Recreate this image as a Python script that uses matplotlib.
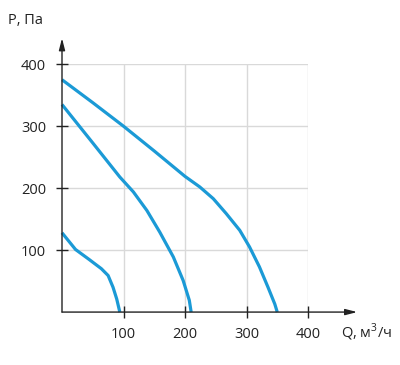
import matplotlib
matplotlib.use('Agg')
import matplotlib.pyplot as plt

plt.rcParams['font.family'] = ['Open Sans', 'DejaVu Sans']
plt.rcParams['mathtext.fontset'] = 'custom'
plt.rcParams['mathtext.rm'] = 'Open Sans'

# curves (Q, P)
q_big = [0, 50, 100, 150, 200, 224, 246, 267, 289, 305, 321, 335, 346, 350]
p_big = [375, 338, 300, 260, 219, 202, 183, 159, 132, 105, 73, 40, 13, 0]

q_mid = [0, 50, 94, 116, 138, 159, 181, 197, 207, 210]
p_mid = [335, 273, 218, 194, 164, 129, 89, 51, 19, 0]

q_small = [0, 22, 44, 64, 75, 83, 89, 94]
p_small = [128, 101, 85, 70, 59, 40, 21, 0]

ticks = [100, 200, 300, 400]
blue = '#1b9ad6'

fig = plt.figure(figsize=(4, 3.65), dpi=100)
ax = fig.add_axes([0.155, 0.145, 0.615, 0.679])
ax.set_xlim(0, 400)
ax.set_ylim(0, 400)

for s in ax.spines.values():
    s.set_visible(False)

ax.set_xticks(ticks)
ax.set_yticks(ticks)
ax.grid(True, color='#d9d9d9', linewidth=1.0)
ax.tick_params(direction='inout', length=9, width=1.0, color='#222222',
               labelsize=10.5, labelcolor='#222222')
ax.tick_params(axis='y', pad=7)
ax.tick_params(axis='x', pad=6)

for q, p in [(q_big, p_big), (q_mid, p_mid), (q_small, p_small)]:
    ax.plot(q, p, color=blue, linewidth=2.3, solid_capstyle='butt',
            solid_joinstyle='round', clip_on=False)

arrow = dict(arrowstyle='-|>,head_length=0.7,head_width=0.18', color='#222222',
             linewidth=1.0, shrinkA=0, shrinkB=0)
ax.annotate('', xy=(1.2, 0), xytext=(0, 0), xycoords='axes fraction',
            arrowprops=arrow, annotation_clip=False)
ax.annotate('', xy=(0, 1.105), xytext=(0, 0), xycoords='axes fraction',
            arrowprops=arrow, annotation_clip=False)

fig.text(0.02, 0.945, 'P, Па', fontsize=10.5, color='#222222', va='center')
fig.text(0.853, 0.09, r'Q, м$^\mathrm{3}$/ч', fontsize=10.5, color='#222222',
         va='center')

fig.savefig('out.png', dpi=100)
